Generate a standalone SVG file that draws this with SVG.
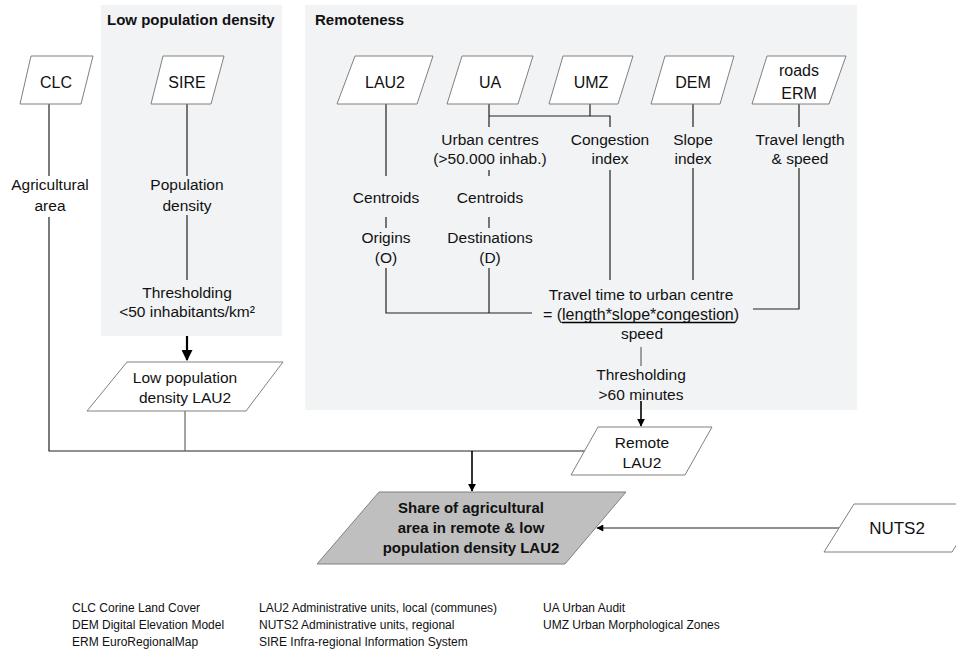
<svg xmlns="http://www.w3.org/2000/svg" width="956" height="651" viewBox="0 0 956 651">
<defs>
<marker id="ah" viewBox="0 0 10 10" refX="9" refY="5" markerWidth="5" markerHeight="5" orient="auto" markerUnits="strokeWidth">
<path d="M0,0 L10,5 L0,10 Z" fill="#000"/>
</marker>
<marker id="ahs" viewBox="0 0 10 10" refX="9" refY="5" markerWidth="8" markerHeight="7" orient="auto" markerUnits="userSpaceOnUse">
<path d="M0,0 L10,5 L0,10 Z" fill="#000"/>
</marker>
</defs>
<style>
text{font-family:"Liberation Sans",Arial,sans-serif;fill:#111;}
.panel{fill:#f2f3f5;stroke:none;}
.title{font-size:15px;font-weight:bold;}
.data{fill:#fff;stroke:#808080;stroke-width:1;}
.res{fill:#bfbfbf;stroke:#808080;stroke-width:1;}
.nl{font-size:16px;text-anchor:middle;}
.lb{font-size:15.5px;text-anchor:middle;}
.bl{font-size:15px;font-weight:bold;text-anchor:middle;}
.lg{font-size:12px;}
.c{fill:none;stroke:#222;stroke-width:1.2;}
.g{fill:none;stroke:#666;stroke-width:1.2;}
.a{fill:none;stroke:#000;stroke-width:1.6;}
.at{fill:none;stroke:#000;stroke-width:2.2;}
</style>
<rect width="956" height="651" fill="#fff"/>
<g id="panel-lowpop">
<rect class="panel" x="101" y="5" width="181" height="331"/>
<text class="title" x="107" y="25">Low population density</text>
</g>
<g id="panel-remoteness">
<rect class="panel" x="305" y="5" width="552" height="405"/>
<text class="title" x="315" y="25">Remoteness</text>
</g>
<g id="connectors">
<path class="c" d="M49,104 V176 M49,217 V451 H585"/>
<path class="c" d="M187,104 V176 M187,215 V280"/>
<path class="at" d="M187,336 V360" marker-end="url(#ah)"/>
<path class="g" d="M185,411 V451"/>
<path class="a" d="M472,451 V491" marker-end="url(#ah)"/>
<path class="c" d="M386,104 V176 M386,217 V228 M386,268 V313 H532"/>
<path class="c" d="M489,104 V127 M489,116 H610 V127 M590,104 V116 M489,170 V176 M489,217 V228 M489,268 V313"/>
<path class="c" d="M610,170 V280"/>
<path class="c" d="M693,104 V127 M693,168 V280"/>
<path class="c" d="M799,104 V127 M799,168 V309 H753"/>
<path class="g" d="M641,347 V366"/>
<path class="a" d="M641,401 V426" marker-end="url(#ah)"/>
<path class="c" d="M839,528 H597" marker-end="url(#ahs)"/>
</g>
<g id="node-clc">
<polygon class="data" points="31,56 93,56 81,104 20,104"/>
<text class="nl" x="56" y="88">CLC</text>
</g>
<g id="node-agri">
<text class="lb" x="50" y="190">Agricultural</text>
<text class="lb" x="50" y="211">area</text>
</g>
<g id="node-sire">
<polygon class="data" points="163,56 224,56 211,104 151,104"/>
<text class="nl" x="187" y="88">SIRE</text>
</g>
<g id="node-popdens">
<text class="lb" x="187" y="190">Population</text>
<text class="lb" x="187" y="211">density</text>
</g>
<g id="node-thresh50">
<text class="lb" x="187" y="298">Thresholding</text>
<text class="lb" x="187" y="317">&lt;50 inhabitants/km²</text>
</g>
<g id="node-lowpoplau2">
<polygon class="data" points="127,362 283,362 246,411 87,411"/>
<text class="lb" x="185" y="383">Low population</text>
<text class="lb" x="185" y="403">density LAU2</text>
</g>
<g id="node-lau2">
<polygon class="data" points="355,56 433,56 417,104 337,104"/>
<text class="nl" x="385" y="88">LAU2</text>
</g>
<g id="node-ua">
<polygon class="data" points="462,56 533,56 518,104 447,104"/>
<text class="nl" x="490" y="88">UA</text>
</g>
<g id="node-umz">
<polygon class="data" points="563,56 633,56 618,104 549,104"/>
<text class="nl" x="591" y="88">UMZ</text>
</g>
<g id="node-dem">
<polygon class="data" points="665,56 734,56 720,104 651,104"/>
<text class="nl" x="693" y="88">DEM</text>
</g>
<g id="node-roads">
<polygon class="data" points="767,56 846,56 829,104 752,104"/>
<text class="nl" x="799" y="76">roads</text>
<text class="nl" x="799" y="99">ERM</text>
</g>
<g id="node-urban">
<text class="lb" x="490" y="145">Urban centres</text>
<text class="lb" x="490" y="164">(&gt;50.000 inhab.)</text>
</g>
<g id="node-congestion">
<text class="lb" x="610" y="145">Congestion</text>
<text class="lb" x="610" y="164">index</text>
</g>
<g id="node-slope">
<text class="lb" x="693" y="145">Slope</text>
<text class="lb" x="693" y="164">index</text>
</g>
<g id="node-travel">
<text class="lb" x="800" y="145">Travel length</text>
<text class="lb" x="800" y="164">&amp; speed</text>
</g>
<g id="node-centroids-o">
<text class="lb" x="386" y="203">Centroids</text>
</g>
<g id="node-centroids-d">
<text class="lb" x="490" y="203">Centroids</text>
</g>
<g id="node-origins">
<text class="lb" x="386" y="243">Origins</text>
<text class="lb" x="386" y="263">(O)</text>
</g>
<g id="node-destinations">
<text class="lb" x="490" y="243">Destinations</text>
<text class="lb" x="490" y="263">(D)</text>
</g>
<g id="node-traveltime">
<text class="lb" x="641" y="300">Travel time to urban centre</text>
<text class="lb" x="641" y="320" style="font-size:16px">= (length*slope*congestion)</text>
<line x1="562" y1="322.5" x2="735" y2="322.5" stroke="#000" stroke-width="1.4"/>
<text class="lb" x="642" y="339">speed</text>
</g>
<g id="node-thresh60">
<text class="lb" x="641" y="380">Thresholding</text>
<text class="lb" x="641" y="400">&gt;60 minutes</text>
</g>
<g id="node-remote">
<polygon class="data" points="598,427 712,427 685,475 571,475"/>
<text class="lb" x="642" y="448">Remote</text>
<text class="lb" x="642" y="468">LAU2</text>
</g>
<g id="node-share">
<polygon class="res" points="379,492 626,492 565,564 317,564"/>
<text class="bl" x="471" y="513">Share of agricultural</text>
<text class="bl" x="471" y="533">area in remote &amp; low</text>
<text class="bl" x="471" y="553">population density LAU2</text>
</g>
<g id="node-nuts2">
<polygon class="data" points="854,504 982,504 952,552 824,552"/>
<text class="nl" x="897" y="534" style="font-size:17px">NUTS2</text>
</g>
<g id="legend">
<text class="lg" x="72" y="612">CLC Corine Land Cover</text>
<text class="lg" x="72" y="629">DEM Digital Elevation Model</text>
<text class="lg" x="72" y="646">ERM EuroRegionalMap</text>
<text class="lg" x="259" y="612">LAU2 Administrative units, local (communes)</text>
<text class="lg" x="259" y="629">NUTS2 Administrative units, regional</text>
<text class="lg" x="259" y="646">SIRE Infra-regional Information System</text>
<text class="lg" x="543" y="612">UA Urban Audit</text>
<text class="lg" x="543" y="629">UMZ Urban Morphological Zones</text>
</g>
</svg>
